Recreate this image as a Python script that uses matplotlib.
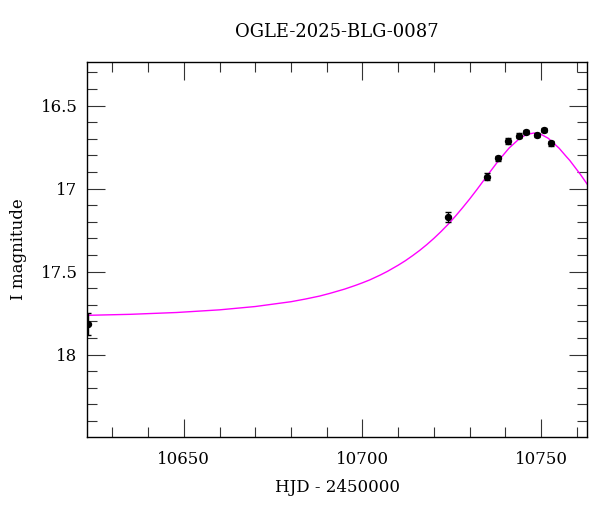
import matplotlib
matplotlib.use("Agg")
import matplotlib.pyplot as plt
from matplotlib.ticker import MultipleLocator, FuncFormatter

title = "OGLE-2025-BLG-0087"
xlabel = "HJD - 2450000"
ylabel = "I magnitude"

obs_hjd = [10623.3, 10723.95, 10734.86, 10737.85, 10740.84, 10743.80,
           10745.87, 10748.75, 10750.80, 10752.87]
obs_mag = [17.815, 17.172, 16.928, 16.817, 16.713, 16.681,
           16.657, 16.677, 16.646, 16.727]
obs_err = [0.065, 0.030, 0.020, 0.016, 0.016, 0.014,
           0.013, 0.014, 0.014, 0.016]

# Model curve
model_hjd = [10623, 10635, 10648, 10660, 10670, 10680, 10684, 10688, 10691,
             10695, 10698, 10700, 10702, 10705, 10707, 10710, 10712, 10714,
             10716, 10718, 10720, 10722, 10724, 10726, 10728, 10730, 10732,
             10734, 10736, 10738, 10741, 10744, 10746, 10748, 10750, 10752,
             10755, 10757, 10758, 10761, 10763]
model_mag = [17.763, 17.757, 17.746, 17.730, 17.710, 17.681, 17.665, 17.647,
             17.630, 17.605, 17.583, 17.567, 17.550, 17.520, 17.498, 17.461,
             17.434, 17.404, 17.372, 17.337, 17.299, 17.258, 17.214, 17.166,
             17.115, 17.062, 17.006, 16.948, 16.890, 16.833, 16.756, 16.697,
             16.673, 16.665, 16.673, 16.697, 16.756, 16.806, 16.830, 16.915,
             16.977]

xlim = (10623.0, 10762.9)
ylim = (18.494, 16.239)

plt.rcParams['font.family'] = ['DejaVu Serif']

fig = plt.figure(figsize=(6.0, 5.12), dpi=100)
ax = fig.add_axes([0.1455, 0.1471, 0.9788 - 0.1455, 0.8783 - 0.1471])

ax.plot(model_hjd, model_mag, color='#ff00ff', lw=1.0, zorder=2)
ax.errorbar(obs_hjd, obs_mag, yerr=obs_err, fmt='o', color='black',
            ms=4.3, elinewidth=1.0, capsize=2.5, capthick=1.0, zorder=3,
            clip_on=True)

ax.set_xlim(*xlim)
ax.set_ylim(*ylim)

ax.xaxis.set_major_locator(MultipleLocator(50))
ax.xaxis.set_minor_locator(MultipleLocator(10))
ax.yaxis.set_major_locator(MultipleLocator(0.5))
ax.yaxis.set_minor_locator(MultipleLocator(0.1))
ax.yaxis.set_major_formatter(FuncFormatter(lambda v, p: "%g" % v))
ax.xaxis.set_major_formatter(FuncFormatter(lambda v, p: "%d" % round(v)))

ax.tick_params(which='both', direction='in', top=True, right=True,
               labelsize=12, width=0.8, color='#333333')
ax.tick_params(which='major', length=13)
ax.tick_params(which='minor', length=7.2)
ax.tick_params(axis='x', which='major', pad=10)
ax.tick_params(axis='y', which='major', pad=7)

for s in ax.spines.values():
    s.set_linewidth(1.0)

ax.set_title(title, fontsize=13, pad=18)
ax.set_xlabel(xlabel, fontsize=12, labelpad=8)
ax.set_ylabel(ylabel, fontsize=12, labelpad=10)

fig.savefig("out.png", dpi=100)
